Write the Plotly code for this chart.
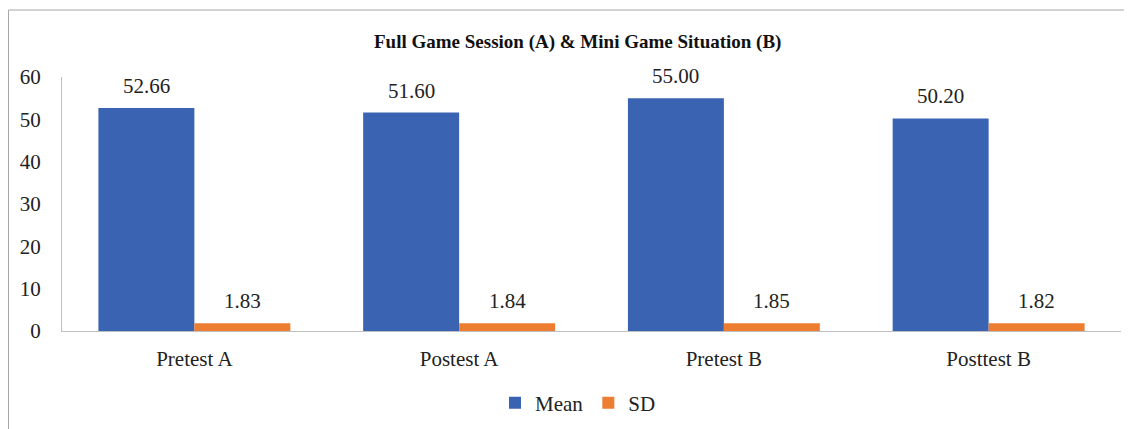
import plotly.graph_objects as go

categories = ["Pretest A", "Postest A", "Pretest B", "Posttest B"]
mean_vals = [52.66, 51.60, 55.00, 50.20]
sd_vals = [1.83, 1.84, 1.85, 1.82]
mean_labels = ["52.66", "51.60", "55.00", "50.20"]
sd_labels = ["1.83", "1.84", "1.85", "1.82"]

# page has an 8px body margin, so the figure is drawn offset by (8, 8)
OFF = 8
W, H = 1132 - OFF, 429 - OFF
L, R, T, B = 62 - OFF, 11, 77 - OFF, 98
pw = W - L - R
ph = H - T - B

font = "'Liberation Serif', 'Times New Roman', Times, serif"
FS = 21

fig = go.Figure()
fig.add_trace(go.Bar(name="Mean", x=categories, y=mean_vals,
                     marker=dict(color="#3a63b2", line=dict(width=0))))
fig.add_trace(go.Bar(name="SD", x=categories, y=sd_vals,
                     marker=dict(color="#ed7d31", line=dict(width=0))))

ann = []
for c, v, t in zip(categories, mean_vals, mean_labels):
    ann.append(dict(x=c, y=v, text=t, xref="x", yref="y", showarrow=False,
                    xshift=-48, yshift=8, yanchor="bottom",
                    font=dict(family=font, size=FS, color="#222")))
for c, v, t in zip(categories, sd_vals, sd_labels):
    ann.append(dict(x=c, y=v, text=t, xref="x", yref="y", showarrow=False,
                    xshift=48, yshift=8, yanchor="bottom",
                    font=dict(family=font, size=FS, color="#222")))

ann.append(dict(text="<b>Full Game Session (A) &amp; Mini Game Situation (B)</b>",
                xref="paper", yref="paper",
                x=(577 - OFF - L) / pw, y=(H - B - (42 - OFF)) / ph,
                showarrow=False, xanchor="center", yanchor="middle",
                font=dict(family=font, size=19, color="#111")))

fx0 = (8 - OFF - L + 0.5) / pw
fy1 = (H - B - (10 - OFF)) / ph
shapes = [
    dict(type="line", xref="paper", yref="paper", x0=fx0, x1=(W - L) / pw, y0=fy1, y1=fy1,
         line=dict(color="#a6a6a6", width=1)),
    dict(type="line", xref="paper", yref="paper", x0=fx0, x1=fx0, y0=fy1, y1=(-B - 5) / ph,
         line=dict(color="#a6a6a6", width=1)),
]

fig.update_layout(
    width=W, height=H,
    margin=dict(l=L, r=R, t=T, b=B, autoexpand=False),
    paper_bgcolor="white", plot_bgcolor="white",
    barmode="group", bargap=0.275, bargroupgap=0,
    font=dict(family=font, size=FS, color="#222"),
    showlegend=True,
    legend=dict(orientation="h", xref="container", yref="container",
                x=(578 - OFF) / W, xanchor="center",
                y=(H - (403 - OFF)) / H, yanchor="middle",
                font=dict(family=font, size=FS, color="#222"),
                itemwidth=30, tracegroupgap=0),
    annotations=ann,
    shapes=shapes,
)
fig.update_xaxes(showline=True, linecolor="#bfbfbf", linewidth=1, showgrid=False,
                 ticks="", ticklabelstandoff=9, automargin=False,
                 tickfont=dict(family=font, size=FS, color="#222"))
fig.update_yaxes(range=[0, 60], dtick=10, showline=True, linecolor="#bfbfbf", linewidth=1,
                 showgrid=False, zeroline=False, ticks="", ticklabelstandoff=16,
                 automargin=False,
                 tickfont=dict(family=font, size=FS, color="#222"))

fig.write_html("out.html")
